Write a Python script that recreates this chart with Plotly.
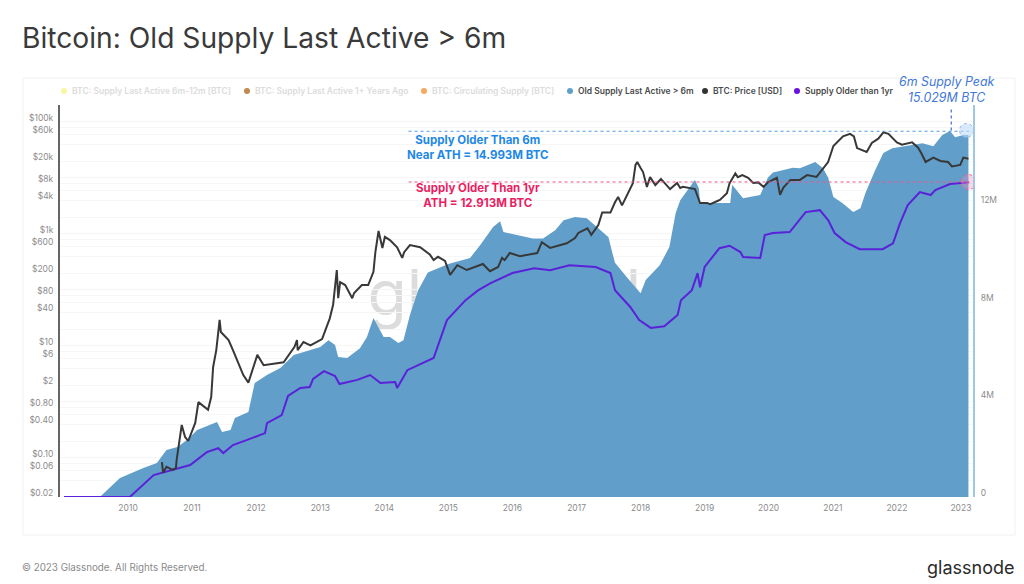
import pandas as pd
import plotly.graph_objects as go

# decimal years / values
SUPPLY_T = [2009.56, 2009.875, 2010.24, 2010.45, 2010.6, 2010.77, 2010.92, 2011.08, 2011.39, 2011.47, 2011.6, 2011.67,
            2011.88, 2011.98, 2012.17, 2012.38, 2012.59, 2013.0, 2013.13, 2013.23, 2013.28, 2013.42, 2013.62, 2013.73,
            2013.83, 2013.99, 2014.09, 2014.22, 2014.3, 2014.4, 2014.53, 2014.68, 2015.0, 2015.34, 2015.5, 2015.7,
            2015.81, 2015.86, 2016.32, 2016.48, 2016.67, 2016.8, 2016.98, 2017.16, 2017.34, 2017.5, 2017.55, 2017.6,
            2017.79, 2017.95, 2018.0, 2018.08, 2018.3, 2018.45, 2018.55, 2018.62, 2018.73, 2018.85, 2018.91, 2018.93,
            2019.4, 2019.43, 2019.6, 2019.87, 2019.99, 2020.07, 2020.38, 2020.49, 2020.73, 2020.85, 2020.93, 2021.01,
            2021.15, 2021.32, 2021.43, 2021.51, 2021.66, 2021.79, 2021.93, 2022.21, 2022.4, 2022.57, 2022.71, 2022.83,
            2022.91, 2023.04, 2023.12]
SUPPLY_M = [0, 0.78, 1.19, 1.39, 1.93, 2.05, 2.34, 2.75, 3.07, 2.66, 2.75, 3.24,
            3.48, 4.67, 5.0, 5.29, 5.82, 6.15, 6.43, 6.23, 5.74, 5.7, 6.1, 6.56,
            7.34, 6.56, 6.56, 6.31, 6.43, 7.46, 8.48, 9.2, 9.55, 9.8, 10.33, 11.07,
            11.3, 10.86, 10.6, 10.6, 10.94, 11.35, 11.48, 11.43, 11.02, 10.65, 10.12, 9.6,
            9.0, 8.48, 8.35, 8.9, 9.5, 10.25, 11.64, 12.17, 12.58, 13.0, 12.66, 12.05,
            12.05, 12.8, 12.25, 12.38, 13.1, 13.3, 13.5, 13.48, 13.73, 13.48, 13.1, 12.3,
            12.05, 11.68, 11.84, 12.46, 13.4, 14.1, 14.3, 14.43, 14.5, 14.38, 14.84, 15.0,
            14.75, 14.84, 14.84]

PRICE_T = [2010.53, 2010.55, 2010.6, 2010.7, 2010.75, 2010.76, 2010.84, 2010.89, 2010.94, 2011.05, 2011.1, 2011.25,
           2011.3, 2011.33, 2011.38, 2011.43, 2011.45, 2011.57, 2011.64, 2011.8, 2011.88, 2012.02, 2012.12, 2012.43,
           2012.6, 2012.64, 2012.65, 2012.74, 2012.85, 2013.03, 2013.15, 2013.2, 2013.26, 2013.28, 2013.31, 2013.39,
           2013.5, 2013.53, 2013.65, 2013.75, 2013.83, 2013.86, 2013.91, 2013.97, 2014.01, 2014.09, 2014.2, 2014.28,
           2014.31, 2014.4, 2014.56, 2014.71, 2014.77, 2014.84, 2014.95, 2015.03, 2015.14, 2015.29, 2015.54, 2015.65,
           2015.78, 2015.84, 2015.88, 2015.96, 2016.12, 2016.39, 2016.46, 2016.59, 2016.85, 2016.98, 2017.03, 2017.17,
           2017.23, 2017.34, 2017.4, 2017.53, 2017.6, 2017.65, 2017.71, 2017.81, 2017.88, 2017.92, 2017.95, 2018.0,
           2018.04, 2018.1, 2018.15, 2018.23, 2018.32, 2018.46, 2018.57, 2018.62, 2018.66, 2018.85, 2018.93, 2019.04,
           2019.09, 2019.21, 2019.24, 2019.35, 2019.39, 2019.48, 2019.52, 2019.59, 2019.68, 2019.76, 2019.84, 2019.92,
           2019.99, 2020.13, 2020.18, 2020.23, 2020.34, 2020.49, 2020.6, 2020.75, 2020.85, 2020.93, 2021.01, 2021.1,
           2021.16, 2021.27, 2021.33, 2021.38, 2021.53, 2021.61, 2021.71, 2021.79, 2021.87, 2022.0, 2022.08, 2022.24,
           2022.33, 2022.38, 2022.45, 2022.57, 2022.68, 2022.8, 2022.86, 2022.99, 2023.04, 2023.12]
PRICE_USD = [0.084, 0.054, 0.069, 0.061, 0.066, 0.092, 0.386, 0.236, 0.2, 0.42, 0.99, 0.72,
             1.22, 4.2, 8.4, 29, 17.7, 12.7, 8.4, 3, 2.2, 6.9, 4.5, 5.1,
             9.6, 12.7, 8.4, 11.7, 10.2, 13.2, 31, 54, 226, 71, 138, 122,
             71, 88, 122, 122, 210, 474, 1125, 560, 880, 772, 577, 372,
             470, 632, 577, 430, 340, 390, 330, 185, 276, 226, 290, 215,
             256, 372, 340, 455, 400, 455, 710, 561, 680, 840, 1040, 1260,
             960, 1430, 2400, 2400, 3670, 4570, 3220, 5600, 8000, 17000, 19200, 15000,
             12700, 6900, 10300, 7440, 9560, 6300, 8100, 6600, 6900, 6300, 3560, 3560,
             3400, 3900, 4030, 5300, 8000, 12000, 10300, 11200, 10000, 8100, 8300, 6900,
             8300, 10000, 5000, 6700, 9200, 9200, 11200, 10400, 15000, 19200, 37000, 47000,
             55000, 61000, 55000, 34000, 29000, 42000, 50000, 65000, 61000, 43000, 39000, 43000,
             35000, 28000, 19200, 23000, 20000, 19200, 16000, 17000, 23000, 22000]

OLDER_1Y_T = [2009.0, 2010.03, 2010.4, 2010.77, 2010.97, 2011.23, 2011.41, 2011.49, 2011.64, 2011.86, 2012.14, 2012.17,
              2012.4, 2012.5, 2012.69, 2012.84, 2012.89, 2013.06, 2013.23, 2013.3, 2013.58, 2013.78, 2013.94, 2014.17,
              2014.2, 2014.36, 2014.77, 2014.98, 2015.27, 2015.47, 2015.66, 2016.0, 2016.34, 2016.59, 2016.89, 2017.3,
              2017.53, 2017.6, 2017.84, 2017.98, 2018.16, 2018.37, 2018.58, 2018.63, 2018.8, 2018.89, 2018.93, 2019.0,
              2019.23, 2019.39, 2019.56, 2019.6, 2019.87, 2019.94, 2020.07, 2020.33, 2020.58, 2020.8, 2020.93, 2021.03,
              2021.2, 2021.42, 2021.78, 2021.94, 2022.05, 2022.17, 2022.36, 2022.53, 2022.6, 2022.83, 2023.08, 2023.13]
OLDER_1Y_M = [0, 0, 0.9, 1.15, 1.31, 1.84, 2.0, 1.8, 2.13, 2.34, 2.62, 3.03,
              3.36, 4.14, 4.47, 4.51, 4.84, 5.16, 4.96, 4.63, 4.8, 5.0, 4.67, 4.71,
              4.47, 5.2, 5.7, 7.25, 8.07, 8.48, 8.77, 9.18, 9.38, 9.3, 9.5, 9.43,
              9.18, 8.48, 7.79, 7.25, 6.93, 7.0, 7.46, 8.07, 8.48, 9.18, 8.6, 9.43,
              10.2, 10.3, 10.04, 9.84, 9.8, 10.74, 10.82, 10.86, 11.68, 11.76, 11.35, 10.82,
              10.45, 10.16, 10.16, 10.4, 11.23, 11.97, 12.5, 12.38, 12.58, 12.83, 12.913, 12.9]

YEARS = list(range(2010, 2024))
PRICE_TICKS = [100000, 80000, 60000, 40000, 20000, 10000, 8000, 6000, 4000, 2000, 1000, 800, 600, 400, 200, 100,
               80, 60, 40, 20, 10, 8, 6, 4, 2, 1, 0.8, 0.6, 0.4, 0.2, 0.1, 0.08, 0.06, 0.04, 0.02]
PRICE_LABELS = ["$100k", "", "$60k", "", "$20k", "", "$8k", "", "$4k", "", "$1k", "", "$600", "", "$200", "",
                "$80", "", "$40", "", "$10", "", "$6", "", "$2", "", "$0.80", "", "$0.40", "", "$0.10", "", "$0.06", "", "$0.02"]
SUPPLY_TICKS = [0, 4, 8, 12]
SUPPLY_LABELS = ["0", "4M", "8M", "12M"]

NEAR_ATH = 14.993
ATH_1Y = 12.913
PEAK_6M = 15.029

LEGEND_NAMES = ["BTC: Supply Last Active 6m-12m [BTC]", "BTC: Supply Last Active 1+ Years Ago",
                "BTC: Circulating Supply [BTC]", "Old Supply Last Active > 6m", "BTC: Price [USD]",
                "Supply Older than 1yr"]
LEGEND_DOTS = ["#f8f5a6", "#c08a4e", "#f6a860", "#619fca", "#333333", "#6a10e0"]
LEGEND_TEXT = ["#dcdcdc", "#dcdcdc", "#dcdcdc", "#4a4a4a", "#4a4a4a", "#4a4a4a"]
LEGEND_X = [64, 247, 424, 570, 705, 797]

FONT = "Inter, 'Noto Sans', sans-serif"
# the page keeps an 8px body margin: the figure sits at (8, 8) and only shows up to x=1016
W, H = 1008, 576
L, R, T, B = 60, 973, 105, 497


def dates(years):
    out = []
    for y in years:
        start = pd.Timestamp(year=int(y), month=1, day=1)
        out.append((start + pd.Timedelta(days=(y - int(y)) * 365.25)).strftime("%Y-%m-%d"))
    return out


def px(x):
    return (x - 8) / W


def py(y):
    return 1 - (y - 8) / H


fig = go.Figure()
fig.add_scatter(x=dates(SUPPLY_T), y=SUPPLY_M, name=LEGEND_NAMES[3], mode="lines",
                line=dict(color="#619fca", width=0), fill="tozeroy", fillcolor="#619fca")
fig.add_scatter(x=dates(OLDER_1Y_T), y=OLDER_1Y_M, name=LEGEND_NAMES[5], mode="lines",
                line=dict(color="#5a22d8", width=2))
fig.add_scatter(x=dates(PRICE_T), y=PRICE_USD, name=LEGEND_NAMES[4], mode="lines",
                line=dict(color="#383838", width=2), yaxis="y2")

x_start, x_line = dates([2014.38, 2023.13])
x_peak = dates([2022.85])[0]
shapes = [
    dict(type="rect", xref="paper", yref="paper", x0=px(23), x1=px(1015), y0=py(535), y1=py(78),
         line=dict(color="#f1f1f1", width=1), layer="below"),
    dict(type="rect", xref="paper", yref="paper", x0=px(366), x1=px(680), y0=py(322), y1=py(258),
         line=dict(width=0), layer="below",
         label=dict(text="glassnode", font=dict(family=FONT, size=64, color="#dcdcdc"),
                    textposition="middle center")),
    dict(type="line", xref="x", yref="y", x0=x_start, x1=x_line, y0=NEAR_ATH, y1=NEAR_ATH,
         line=dict(color="#4f9ae6", width=1.2, dash="dot")),
    dict(type="line", xref="x", yref="y", x0=x_start, x1=x_line, y0=ATH_1Y, y1=ATH_1Y,
         line=dict(color="#f0558a", width=1.2, dash="dot")),
    dict(type="line", xref="x", yref="y", x0=x_peak, x1=x_peak, y0=PEAK_6M, y1=15.95,
         line=dict(color="#3d6fd0", width=1.2, dash="dot")),
    dict(type="circle", xref="x", yref="y", xsizemode="pixel", ysizemode="pixel",
         xanchor=dates([2023.09])[0], yanchor=PEAK_6M, x0=-7, x1=7, y0=-7, y1=7,
         fillcolor="rgba(190,220,248,0.6)", line=dict(color="#8fb8ea", width=1, dash="dot")),
    dict(type="circle", xref="x", yref="y", xsizemode="pixel", ysizemode="pixel",
         xanchor=dates([2023.12])[0], yanchor=ATH_1Y, x0=-7.5, x1=7.5, y0=-7.5, y1=7.5,
         fillcolor="rgba(240,140,180,0.35)", line=dict(color="#ee5f95", width=1, dash="dot")),
]
for x, dot in zip(LEGEND_X, LEGEND_DOTS):
    shapes.append(dict(type="circle", xref="paper", yref="paper", x0=px(x - 3), x1=px(x + 3),
                       y0=py(94), y1=py(88), fillcolor=dot, line=dict(width=0)))
fig.update_layout(shapes=shapes)


def note(text, x, y, size, color, anchor="center", **kw):
    fig.add_annotation(text=text, xref="paper", yref="paper", x=px(x), y=py(y), xanchor=anchor, yanchor="middle",
                       showarrow=False, font=dict(family=FONT, size=size, color=color, **kw))


note("Bitcoin: Old Supply Last Active &gt; 6m", 20, 38, 28.2, "#3a3a3a", anchor="left")
for name, x, col in zip(LEGEND_NAMES, LEGEND_X, LEGEND_TEXT):
    note(name.replace(">", "&gt;"), x + 6, 91, 8.5, col, anchor="left", weight=600)
note("<b>Supply Older Than 6m<br>Near ATH = 14.993M BTC</b>", 478, 147, 11.5, "#1e88e5")
note("<b>Supply Older Than 1yr<br>ATH = 12.913M BTC</b>", 478, 196, 11.5, "#e91e63")
note("<i>6m Supply Peak<br>15.029M BTC</i>", 947, 89, 12.4, "#3f78d8")
note("© 2023 Glassnode. All Rights Reserved.", 20, 567, 9.8, "#8a8a8a", anchor="left")
note("glassnode", 1015.5, 567, 18, "#2a2a2a", anchor="right")

fig.update_layout(
    width=W, height=H, autosize=False, template=None, paper_bgcolor="#ffffff", plot_bgcolor="#ffffff",
    margin=dict(l=0, r=0, t=0, b=0), showlegend=False,
    font=dict(family=FONT, size=8.5, color="#8c8c8c"),
    xaxis=dict(type="date", domain=[px(L), px(R)], range=dates([2008.94, 2023.19]),
               tickvals=[f"{y}-01-01" for y in YEARS], ticktext=[str(y) for y in YEARS],
               showgrid=False, zeroline=False, ticks="", anchor="y", ticklabelstandoff=4),
    yaxis=dict(side="right", domain=[py(B), py(T)], range=[0, 16.07], tickvals=SUPPLY_TICKS, ticktext=SUPPLY_LABELS,
               showgrid=False, showline=True, linecolor="#9fc6e4", linewidth=2, zeroline=False,
               ticks="", ticklabelshift=-4, ticklabelstandoff=4),
    yaxis2=dict(type="log", overlaying="y", side="left", range=[-1.699, 5.301], tickvals=PRICE_TICKS,
                ticktext=PRICE_LABELS, gridcolor="#f6f6f6", gridwidth=1, showline=True, linecolor="#666666",
                linewidth=2, zeroline=False, ticks="", ticklabelshift=-4, ticklabelstandoff=3),
)
fig.write_html("out.html")
